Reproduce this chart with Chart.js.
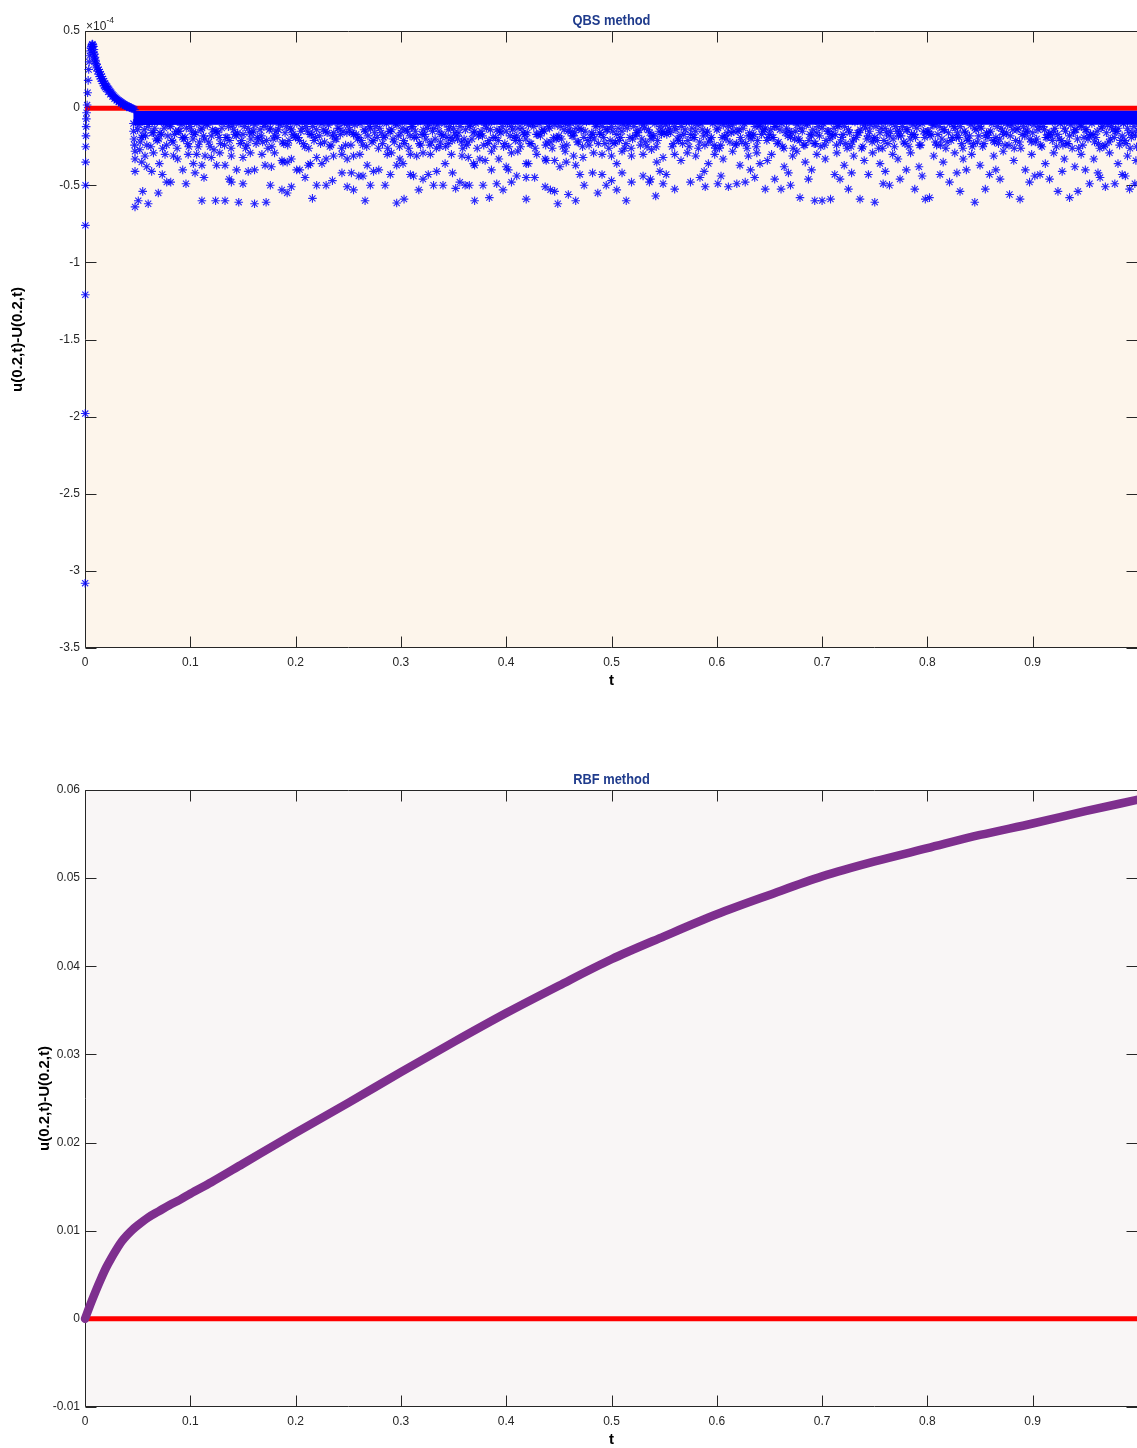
<!DOCTYPE html>
<html>
<head>
<meta charset="utf-8">
<script src="https://cdn.jsdelivr.net/npm/chart.js@4"></script>
<style>
  html, body { margin: 0; padding: 0; background: #fff; overflow: hidden; }
  body { width: 1137px; height: 1448px; position: relative; }
  canvas { position: absolute; left: 0; }
  #qbsChart { top: 0; }
  #rbfChart { top: 740px; }
</style>
</head>
<body>
<canvas id="qbsChart" width="1145" height="700"></canvas>
<canvas id="rbfChart" width="1145" height="708"></canvas>
<script>
/* ---- QBS error, in units of 1e-4 ---- */
const qbsStartT = [0.0001, 0.0002, 0.0003, 0.0004, 0.0005, 0.0006, 0.0007, 0.0009, 0.0011, 0.0013];
const qbsStartV = [-3.08, -1.98, -1.21, -0.76, -0.50, -0.35, -0.25, -0.18, -0.12, -0.07];

const qbsRiseT = [0.0015, 0.002, 0.0025, 0.003, 0.0035, 0.004, 0.0045, 0.005, 0.0055, 0.006,
    0.0065, 0.007, 0.0075, 0.008, 0.0085, 0.009, 0.0095, 0.010, 0.011, 0.012, 0.013, 0.014,
    0.015, 0.016, 0.017, 0.018, 0.019, 0.020, 0.021, 0.022, 0.023, 0.024, 0.025, 0.026, 0.027,
    0.028, 0.029, 0.030, 0.031, 0.032, 0.033, 0.034, 0.035, 0.036, 0.037, 0.038, 0.039, 0.040,
    0.041, 0.042, 0.043, 0.044, 0.045, 0.046, 0.047];
const qbsRiseV = [-0.03, 0.02, 0.10, 0.18, 0.25, 0.30, 0.34, 0.37, 0.39, 0.40,
    0.41, 0.415, 0.41, 0.40, 0.38, 0.35, 0.33, 0.31, 0.285, 0.265, 0.25, 0.235,
    0.22, 0.205, 0.19, 0.175, 0.16, 0.15, 0.14, 0.13, 0.12, 0.11, 0.10, 0.09, 0.082,
    0.075, 0.068, 0.061, 0.055, 0.05, 0.045, 0.04, 0.035, 0.03, 0.026, 0.022, 0.018, 0.014,
    0.011, 0.008, 0.005, 0.002, -0.002, -0.006, -0.01];

/* lower edge of the thick decaying branch */
const qbsDecayT = [0.008, 0.009, 0.010, 0.011, 0.012, 0.013, 0.014, 0.015, 0.016, 0.017, 0.018,
    0.019, 0.020, 0.022, 0.024, 0.026, 0.028, 0.030, 0.032, 0.034, 0.036, 0.038, 0.040, 0.042];
const qbsDecayV = [0.36, 0.32, 0.29, 0.26, 0.24, 0.22, 0.205, 0.19, 0.175, 0.16, 0.145,
    0.135, 0.125, 0.105, 0.09, 0.075, 0.06, 0.05, 0.04, 0.03, 0.022, 0.015, 0.008, 0.002];

/* solid part of the band just under zero */
const qbsCoreT = [0.046, 0.15, 0.3, 0.45, 0.6, 0.75, 0.9, 1.0];
const qbsCoreV = [-0.064, -0.063, -0.062, -0.063, -0.062, -0.063, -0.062, -0.063];

/* textured part of the band, four rows sampled every 0.005 */
const midStep = 0.005;
const midStartA = 0.05;
const midStartB = 0.0525;
const midStartC = 0.0512;
const midStartD = 0.0537;
const qbsMidA = [
    -0.14,-0.18,-0.12,-0.16,-0.20,-0.13,-0.11,-0.17,-0.15,-0.19,
    -0.12,-0.16,-0.14,-0.10,-0.18,-0.15,-0.13,-0.19,-0.11,-0.16,
    -0.17,-0.13,-0.15,-0.20,-0.12,-0.14,-0.18,-0.11,-0.16,-0.13,
    -0.19,-0.15,-0.12,-0.17,-0.14,-0.10,-0.16,-0.18,-0.13,-0.15,
    -0.11,-0.17,-0.19,-0.14,-0.12,-0.16,-0.13,-0.18,-0.15,-0.10,
    -0.16,-0.14,-0.12,-0.19,-0.17,-0.13,-0.15,-0.11,-0.18,-0.14,
    -0.13,-0.16,-0.20,-0.12,-0.15,-0.17,-0.11,-0.14,-0.19,-0.16,
    -0.15,-0.12,-0.18,-0.13,-0.16,-0.10,-0.17,-0.14,-0.12,-0.19,
    -0.18,-0.14,-0.11,-0.16,-0.13,-0.15,-0.19,-0.12,-0.17,-0.14,
    -0.12,-0.17,-0.15,-0.13,-0.20,-0.16,-0.11,-0.14,-0.18,-0.15,
    -0.16,-0.13,-0.12,-0.18,-0.14,-0.17,-0.15,-0.10,-0.16,-0.19,
    -0.14,-0.19,-0.16,-0.11,-0.15,-0.13,-0.18,-0.17,-0.12,-0.14,
    -0.17,-0.12,-0.14,-0.16,-0.19,-0.15,-0.13,-0.11,-0.18,-0.16,
    -0.13,-0.15,-0.18,-0.12,-0.17,-0.14,-0.20,-0.16,-0.11,-0.15,
    -0.19,-0.16,-0.13,-0.15,-0.12,-0.18,-0.14,-0.17,-0.13,-0.10,
    -0.15,-0.11,-0.17,-0.14,-0.16,-0.12,-0.19,-0.15,-0.18,-0.13,
    -0.12,-0.18,-0.15,-0.19,-0.13,-0.16,-0.11,-0.14,-0.17,-0.15,
    -0.16,-0.14,-0.12,-0.17,-0.15,-0.20,-0.13,-0.18,-0.14,-0.11,
    -0.14,-0.17,-0.19,-0.13,-0.16,-0.12,-0.15,-0.18,-0.13,-0.16,
    -0.15
];
const qbsMidB = [
    -0.22,-0.18,-0.25,-0.20,-0.17,-0.24,-0.21,-0.26,-0.19,-0.23,
    -0.20,-0.25,-0.18,-0.22,-0.27,-0.19,-0.24,-0.21,-0.17,-0.23,
    -0.26,-0.20,-0.23,-0.18,-0.21,-0.25,-0.19,-0.22,-0.24,-0.17,
    -0.19,-0.23,-0.26,-0.21,-0.18,-0.22,-0.25,-0.20,-0.17,-0.24,
    -0.24,-0.17,-0.21,-0.25,-0.22,-0.19,-0.23,-0.26,-0.20,-0.18,
    -0.21,-0.26,-0.19,-0.23,-0.17,-0.24,-0.20,-0.22,-0.25,-0.19,
    -0.18,-0.22,-0.24,-0.20,-0.26,-0.18,-0.23,-0.19,-0.21,-0.25,
    -0.25,-0.19,-0.21,-0.17,-0.23,-0.26,-0.18,-0.24,-0.22,-0.20,
    -0.20,-0.24,-0.18,-0.22,-0.25,-0.21,-0.17,-0.23,-0.19,-0.26,
    -0.23,-0.21,-0.26,-0.19,-0.18,-0.24,-0.22,-0.20,-0.25,-0.17,
    -0.17,-0.25,-0.20,-0.23,-0.21,-0.19,-0.26,-0.18,-0.22,-0.24,
    -0.26,-0.18,-0.22,-0.24,-0.19,-0.23,-0.20,-0.25,-0.17,-0.21,
    -0.19,-0.23,-0.25,-0.18,-0.26,-0.20,-0.24,-0.21,-0.23,-0.18,
    -0.24,-0.20,-0.17,-0.22,-0.23,-0.25,-0.19,-0.26,-0.20,-0.22,
    -0.21,-0.26,-0.23,-0.20,-0.18,-0.22,-0.25,-0.17,-0.24,-0.19,
    -0.18,-0.22,-0.24,-0.26,-0.21,-0.19,-0.23,-0.20,-0.25,-0.22,
    -0.25,-0.19,-0.21,-0.23,-0.17,-0.24,-0.26,-0.22,-0.18,-0.20,
    -0.22,-0.24,-0.19,-0.18,-0.25,-0.21,-0.23,-0.26,-0.20,-0.24,
    -0.20,-0.17,-0.23,-0.25,-0.22,-0.19,-0.24,-0.21,-0.26,-0.18,
    -0.23
];
const qbsMidC = [
    -0.11,-0.14,-0.09,-0.13,-0.16,-0.10,-0.12,-0.15,-0.11,-0.13,
    -0.15,-0.10,-0.13,-0.11,-0.14,-0.16,-0.09,-0.12,-0.14,-0.10,
    -0.12,-0.16,-0.11,-0.14,-0.10,-0.13,-0.15,-0.09,-0.12,-0.14,
    -0.10,-0.13,-0.15,-0.12,-0.09,-0.14,-0.11,-0.16,-0.13,-0.10,
    -0.14,-0.11,-0.10,-0.15,-0.13,-0.12,-0.16,-0.10,-0.14,-0.11,
    -0.13,-0.15,-0.12,-0.09,-0.14,-0.11,-0.13,-0.15,-0.10,-0.12,
    -0.16,-0.12,-0.14,-0.11,-0.10,-0.15,-0.13,-0.09,-0.14,-0.12,
    -0.10,-0.14,-0.13,-0.16,-0.11,-0.12,-0.10,-0.15,-0.13,-0.11,
    -0.12,-0.10,-0.15,-0.13,-0.14,-0.09,-0.16,-0.11,-0.12,-0.14,
    -0.15,-0.13,-0.11,-0.10,-0.12,-0.14,-0.13,-0.16,-0.10,-0.12,
    -0.11,-0.16,-0.14,-0.12,-0.09,-0.13,-0.11,-0.14,-0.15,-0.10,
    -0.13,-0.11,-0.12,-0.15,-0.14,-0.10,-0.16,-0.12,-0.11,-0.13,
    -0.14,-0.12,-0.10,-0.13,-0.16,-0.11,-0.15,-0.10,-0.14,-0.12,
    -0.10,-0.15,-0.13,-0.11,-0.12,-0.16,-0.09,-0.14,-0.13,-0.11,
    -0.12,-0.13,-0.16,-0.10,-0.15,-0.12,-0.14,-0.11,-0.10,-0.15,
    -0.15,-0.11,-0.12,-0.14,-0.10,-0.13,-0.12,-0.16,-0.11,-0.14,
    -0.13,-0.16,-0.10,-0.12,-0.15,-0.11,-0.14,-0.13,-0.12,-0.10,
    -0.11,-0.12,-0.14,-0.16,-0.13,-0.10,-0.15,-0.11,-0.14,-0.12,
    -0.14,-0.10,-0.15,-0.12,-0.11,-0.14,-0.13,-0.10,-0.16,-0.12,
    -0.13
];
const qbsMidD = [
    -0.19,-0.24,-0.16,-0.21,-0.26,-0.18,-0.22,-0.15,-0.20,-0.25,
    -0.17,-0.22,-0.20,-0.25,-0.15,-0.23,-0.19,-0.26,-0.18,-0.21,
    -0.24,-0.16,-0.19,-0.22,-0.26,-0.20,-0.14,-0.23,-0.21,-0.18,
    -0.21,-0.25,-0.17,-0.19,-0.23,-0.15,-0.24,-0.20,-0.26,-0.16,
    -0.16,-0.20,-0.24,-0.18,-0.21,-0.26,-0.19,-0.15,-0.22,-0.25,
    -0.23,-0.18,-0.15,-0.24,-0.20,-0.22,-0.26,-0.17,-0.19,-0.21,
    -0.20,-0.26,-0.22,-0.16,-0.18,-0.24,-0.21,-0.25,-0.15,-0.23,
    -0.18,-0.21,-0.25,-0.20,-0.23,-0.17,-0.15,-0.22,-0.26,-0.19,
    -0.25,-0.15,-0.18,-0.22,-0.19,-0.24,-0.20,-0.16,-0.23,-0.21,
    -0.22,-0.19,-0.23,-0.26,-0.16,-0.20,-0.25,-0.18,-0.21,-0.15,
    -0.15,-0.23,-0.21,-0.17,-0.25,-0.19,-0.22,-0.24,-0.20,-0.26,
    -0.24,-0.20,-0.16,-0.23,-0.22,-0.26,-0.18,-0.21,-0.15,-0.19,
    -0.19,-0.22,-0.26,-0.15,-0.20,-0.21,-0.24,-0.17,-0.23,-0.25,
    -0.21,-0.17,-0.24,-0.19,-0.26,-0.22,-0.16,-0.25,-0.18,-0.20,
    -0.26,-0.21,-0.18,-0.25,-0.15,-0.23,-0.20,-0.19,-0.24,-0.16,
    -0.17,-0.24,-0.20,-0.22,-0.19,-0.16,-0.26,-0.21,-0.23,-0.18,
    -0.23,-0.16,-0.22,-0.20,-0.24,-0.18,-0.21,-0.26,-0.15,-0.22,
    -0.20,-0.25,-0.19,-0.21,-0.17,-0.24,-0.23,-0.16,-0.26,-0.19,
    -0.18,-0.22,-0.26,-0.24,-0.20,-0.15,-0.21,-0.23,-0.19,-0.25,
    -0.22
];

/* scattered asterisks below the band [t, value] */
const qbsScatterPts = [
    [.046,-.10],[.046,-.15],[.0465,-.20],[.047,-.24],[.0475,-.28],[.0475,-.33],[.0475,-.41],[.0475,-.64],
    [.0506,-.60],[.052,-.27],[.0538,-.35],[.0548,-.54],[.057,-.31],[.0586,-.38],[.060,-.62],[.0633,-.41],
    [.065,-.29],[.0696,-.55],[.0706,-.36],[.0734,-.43],[.076,-.30],[.0776,-.48],[.0814,-.48],[.084,-.31],
    [.088,-.33],[.0928,-.40],[.0959,-.49],[.098,-.30],[.1029,-.36],[.1045,-.42],[.106,-.30],
    [.111,-.37],[.111,-.60],[.113,-.45],[.114,-.31],[.120,-.32],[.124,-.60],[.125,-.37],[.128,-.29],
    [.133,-.37],[.133,-.60],[.137,-.46],[.139,-.31],[.139,-.48],[.144,-.40],[.146,-.61],[.150,-.32],
    [.150,-.49],[.155,-.41],[.157,-.29],[.161,-.40],[.161,-.62],[.168,-.30],[.171,-.37],[.172,-.61],
    [.176,-.50],[.177,-.38],[.180,-.29],[.187,-.34],[.187,-.53],[.188,-.35],[.192,-.35],[.192,-.55],
    [.196,-.33],[.196,-.51],[.201,-.40],[.204,-.40],[.209,-.45],[.212,-.37],[.214,-.36],[.216,-.585],
    [.220,-.32],[.220,-.50],[.225,-.36],[.229,-.33],[.229,-.50],[.235,-.47],[.236,-.31],[.244,-.30],
    [.244,-.42],[.249,-.33],[.249,-.51],[.253,-.42],[.255,-.31],[.255,-.53],[.260,-.44],[.261,-.30],
    [.264,-.44],[.266,-.60],[.268,-.37],[.271,-.50],[.274,-.41],[.279,-.40],[.285,-.50],[.287,-.30],
    [.290,-.43],[.291,-.29],[.296,-.37],[.296,-.615],[.299,-.33],[.302,-.36],[.303,-.59],[.309,-.30],
    [.309,-.43],[.312,-.44],[.315,-.31],[.317,-.53],[.321,-.29],[.321,-.46],[.326,-.43],[.328,-.30],
    [.331,-.50],[.334,-.41],
    [.337,-.25],[.340,-.50],[.342,-.36],[.345,-.23],[.348,-.30],[.349,-.42],[.352,-.52],[.356,-.48],
    [.358,-.31],[.361,-.50],[.364,-.32],[.365,-.50],[.369,-.36],[.370,-.37],[.370,-.60],[.375,-.33],
    [.378,-.50],[.380,-.34],[.384,-.58],[.386,-.28],[.386,-.40],[.391,-.49],[.393,-.33],[.397,-.53],
    [.400,-.38],[.402,-.40],[.405,-.29],[.405,-.48],[.410,-.44],[.411,-.28],[.419,-.36],[.419,-.45],
    [.419,-.59],[.421,-.36],[.427,-.45],[.429,-.30],[.437,-.33],[.437,-.51],[.438,-.34],[.442,-.53],
    [.446,-.34],[.446,-.54],[.449,-.62],[.451,-.38],[.456,-.28],[.457,-.35],[.459,-.56],[.464,-.31],
    [.466,-.37],[.466,-.60],[.470,-.43],[.473,-.32],[.474,-.50],[.482,-.42],[.483,-.29],[.487,-.55],
    [.491,-.30],[.491,-.43],[.495,-.50],[.500,-.31],[.500,-.47],[.505,-.36],[.505,-.53],[.510,-.28],
    [.510,-.42],[.514,-.60],[.519,-.31],[.519,-.48],[.530,-.30],[.530,-.44],[.536,-.48],[.537,-.46],
    [.538,-.27],[.542,-.57],[.543,-.35],[.546,-.41],[.549,-.32],[.549,-.49],[.552,-.43],
    [.560,-.30],[.560,-.525],[.566,-.34],[.572,-.29],[.575,-.48],[.580,-.31],[.584,-.45],[.588,-.41],
    [.589,-.51],[.592,-.36],[.598,-.30],[.601,-.49],[.604,-.44],[.606,-.33],[.611,-.51],[.615,-.28],
    [.619,-.49],[.622,-.37],[.627,-.48],[.630,-.31],[.632,-.40],[.636,-.45],[.638,-.29],[.641,-.36],
    [.646,-.525],[.648,-.34],[.652,-.30],[.655,-.46],[.661,-.525],[.664,-.38],[.668,-.42],[.670,-.50],
    [.672,-.31],[.676,-.28],[.679,-.58],[.684,-.35],[.687,-.46],[.690,-.40],[.693,-.60],[.695,-.30],
    [.700,-.60],[.703,-.33],[.708,-.59],[.712,-.43],[.714,-.29],[.717,-.46],[.721,-.37],[.725,-.525],
    [.728,-.42],[.730,-.31],[.736,-.59],[.740,-.34],[.744,-.43],[.748,-.29],[.750,-.61],[.755,-.36],
    [.758,-.49],[.760,-.41],[.764,-.50],[.767,-.30],[.772,-.33],[.774,-.46],[.780,-.40],[.784,-.29],
    [.788,-.525],[.792,-.38],[.795,-.44],[.798,-.59],[.802,-.58],[.806,-.31],[.812,-.43],[.815,-.35],
    [.821,-.48],[.826,-.29],[.828,-.42],[.831,-.54],[.834,-.33],[.837,-.40],[.842,-.30],[.845,-.61],
    [.850,-.37],[.855,-.525],[.859,-.43],[.863,-.31],[.865,-.40],[.869,-.46],[.872,-.28],[.878,-.56],
    [.882,-.34],[.888,-.59],[.893,-.40],[.897,-.48],[.899,-.30],[.902,-.44],[.907,-.43],[.912,-.36],
    [.916,-.46],[.920,-.29],[.924,-.54],[.928,-.41],[.930,-.33],[.935,-.58],[.940,-.38],[.943,-.54],
    [.946,-.30],[.950,-.40],[.954,-.49],[.958,-.33],[.962,-.42],[.964,-.45],[.969,-.51],[.973,-.29],
    [.978,-.49],[.981,-.36],[.985,-.43],[.988,-.44],[.990,-.31],[.992,-.525],[.997,-.49],[.998,-.34]
];

/* ---- RBF error ---- */
const rbfT = [0, 0.005, 0.01, 0.015, 0.02, 0.025, 0.03, 0.035, 0.04, 0.045, 0.05, 0.06, 0.07,
    0.08, 0.09, 0.1, 0.12, 0.15, 0.2, 0.25, 0.3, 0.35, 0.4, 0.45, 0.5, 0.55, 0.6, 0.65, 0.7,
    0.75, 0.8, 0.85, 0.9, 0.95, 1.0];
const rbfV = [0, 0.0016, 0.0031, 0.0045, 0.0058, 0.0069, 0.0079, 0.0088, 0.0095, 0.0101,
    0.0106, 0.0115, 0.0122, 0.0129, 0.0135, 0.0142, 0.0155, 0.0176, 0.0211, 0.0245, 0.0280,
    0.0314, 0.0347, 0.0378, 0.0408, 0.0434, 0.0459, 0.0481, 0.0502, 0.0519, 0.0534, 0.0549,
    0.0562, 0.0576, 0.0589];

/* exact-solution reference line (difference 0) */
const exactT = [0, 1];
const exactV = [0, 0];

const qbsYTicks = { min: -3.5, max: 0.5, step: 0.5 };
const rbfYTicks = { min: -0.01, max: 0.06, step: 0.01 };

const FONT = "'Liberation Sans', Arial, sans-serif";
const INK = '#262626';

const toPts = (ts, vs) => ts.map((t, i) => ({ x: t, y: vs[i] }));
const fmt = v => String(Number(v.toFixed(4)));

/* MATLAB-like box with inward ticks, background and title */
const matlabAxes = {
    id: 'matlabAxes',
    beforeDraw(chart, args, opts) {
        const { ctx, chartArea: a } = chart;
        ctx.save();
        ctx.fillStyle = opts.background;
        ctx.fillRect(a.left, a.top, a.right - a.left, a.bottom - a.top);
        ctx.restore();
    },
    beforeDatasetsDraw(chart) {
        const { ctx, chartArea: a, scales: { x, y } } = chart;
        const L = Math.round(a.left) + 0.5, R = Math.round(a.right) - 0.5;
        const T = Math.round(a.top) + 0.5, B = Math.round(a.bottom) - 0.5;
        ctx.save();
        ctx.strokeStyle = INK;
        ctx.lineWidth = 1;
        ctx.beginPath();
        x.ticks.forEach(t => {
            const px = Math.round(x.getPixelForValue(t.value)) + 0.5;
            ctx.moveTo(px, B); ctx.lineTo(px, B - 11);
            ctx.moveTo(px, T); ctx.lineTo(px, T + 11);
        });
        y.ticks.forEach(t => {
            const py = Math.round(y.getPixelForValue(t.value)) + 0.5;
            ctx.moveTo(L, py); ctx.lineTo(L + 11, py);
            ctx.moveTo(R, py); ctx.lineTo(R - 11, py);
        });
        ctx.moveTo(L, T); ctx.lineTo(R, T); ctx.lineTo(R, B); ctx.lineTo(L, B); ctx.closePath();
        ctx.stroke();
        ctx.restore();
    },
    afterDraw(chart, args, opts) {
        const { ctx, chartArea: a } = chart;
        ctx.save();
        ctx.fillStyle = '#1f3b8c';
        ctx.font = `bold 15.5px ${FONT}`;
        ctx.textAlign = 'center';
        ctx.textBaseline = 'middle';
        ctx.translate((a.left + a.right) / 2, a.top - 10);
        ctx.scale(0.83, 1);
        ctx.fillText(opts.title, 0, 0);
        ctx.restore();
        if (opts.exponent) {
            ctx.save();
            ctx.fillStyle = INK;
            ctx.textAlign = 'left';
            ctx.textBaseline = 'alphabetic';
            ctx.font = `12px ${FONT}`;
            ctx.fillText('\u00d710', a.left + 1, a.top - 1.5);
            ctx.font = `8.5px ${FONT}`;
            ctx.fillText(opts.exponent, a.left + 21.5, a.top - 8.5);
            ctx.restore();
        }
    }
};

function xAxis(height, titlePad) {
    return {
        type: 'linear', min: 0, max: 1,
        grid: { display: false, drawTicks: false },
        border: { display: false },
        ticks: {
            stepSize: 0.1, autoSkip: false, maxRotation: 0, padding: 7, color: INK,
            font: { family: FONT, size: 12 },
            callback: v => (v > 0.999 ? '' : fmt(v))
        },
        title: {
            display: true, text: 't', color: '#000',
            font: { family: FONT, size: 15, weight: 'bold', lineHeight: 1 },
            padding: { top: 0, bottom: titlePad }
        },
        afterFit: s => { s.height = height; }
    };
}

function yAxis(range, titlePad) {
    return {
        type: 'linear', min: range.min, max: range.max,
        grid: { display: false, drawTicks: false },
        border: { display: false },
        ticks: {
            stepSize: range.step, autoSkip: false, padding: 5, color: INK,
            font: { family: FONT, size: 12 },
            callback: v => fmt(v)
        },
        title: {
            display: true, text: 'u(0.2,t)-U(0.2,t)', color: '#000',
            font: { family: FONT, size: 15, weight: 'bold', lineHeight: 1 },
            padding: { top: titlePad, bottom: 0 }
        },
        afterFit: s => { s.width = 85; }
    };
}

const baseOptions = {
    responsive: false,
    animation: false,
    events: [],
    plugins: { legend: { display: false }, tooltip: { enabled: false } }
};

/* QBS points */
const qbsPoints = [
    ...toPts(qbsStartT, qbsStartV),
    ...toPts(qbsRiseT, qbsRiseV),
    ...toPts(qbsDecayT, qbsDecayV),
    ...qbsMidA.map((v, i) => ({ x: midStartA + i * midStep, y: v })),
    ...qbsMidB.map((v, i) => ({ x: midStartB + i * midStep, y: v })),
    ...qbsMidC.map((v, i) => ({ x: midStartC + i * midStep, y: v })),
    ...qbsMidD.map((v, i) => ({ x: midStartD + i * midStep, y: v })),
    ...qbsScatterPts.map(([t, v]) => ({ x: t, y: v }))
];

new Chart(document.getElementById('qbsChart'), {
    type: 'scatter',
    data: {
        datasets: [{
            data: qbsPoints,
            showLine: false,
            pointStyle: 'star',
            pointRadius: 4.3,
            pointBorderWidth: 1.1,
            pointBorderColor: 'rgba(0,0,255,0.85)',
            clip: false
        }, {
            data: toPts(qbsCoreT, qbsCoreV),
            showLine: true,
            borderColor: '#0000ff',
            borderWidth: 14,
            borderCapStyle: 'butt',
            pointRadius: 0
        }, {
            data: toPts(exactT, exactV),
            showLine: true,
            borderColor: '#ff0000',
            borderWidth: 5,
            pointRadius: 0
        }]
    },
    options: {
        ...baseOptions,
        layout: { padding: { top: 31, right: 7, left: 0, bottom: 0 } },
        scales: { x: xAxis(52, 11.5), y: yAxis(qbsYTicks, 10.5) },
        plugins: {
            ...baseOptions.plugins,
            matlabAxes: { background: '#fdf5eb', title: 'QBS method', exponent: '-4' }
        }
    },
    plugins: [matlabAxes]
});

new Chart(document.getElementById('rbfChart'), {
    type: 'scatter',
    data: {
        datasets: [{
            data: toPts(rbfT, rbfV),
            showLine: true,
            borderColor: '#7e2f8e',
            borderWidth: 8.5,
            borderCapStyle: 'round',
            cubicInterpolationMode: 'monotone',
            pointRadius: 0,
            clip: false
        }, {
            data: toPts(exactT, exactV),
            showLine: true,
            borderColor: '#ff0000',
            borderWidth: 5,
            pointRadius: 0
        }]
    },
    options: {
        ...baseOptions,
        layout: { padding: { top: 50, right: 7, left: 0, bottom: 0 } },
        scales: { x: xAxis(41, 0.5), y: yAxis(rbfYTicks, 37.5) },
        plugins: {
            ...baseOptions.plugins,
            matlabAxes: { background: '#f9f6f6', title: 'RBF method', exponent: '' }
        }
    },
    plugins: [matlabAxes]
});
</script>
</body>
</html>
